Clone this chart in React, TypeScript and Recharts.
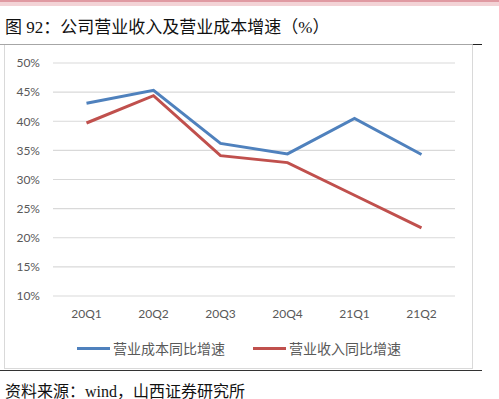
import { LineChart, Line, XAxis, YAxis, CartesianGrid } from 'recharts'

const quarters = ['20Q1', '20Q2', '20Q3', '20Q4', '21Q1', '21Q2']
const costGrowth = [43.1, 45.3, 36.2, 34.4, 40.5, 34.3]
const revenueGrowth = [39.7, 44.4, 34.1, 32.9, 27.3, 21.7]
const yTicks = [10, 15, 20, 25, 30, 35, 40, 45, 50]

const seriesList = [
  { key: 'cost', name: '营业成本同比增速', color: '#4F81BD' },
  { key: 'revenue', name: '营业收入同比增速', color: '#C0504D' },
]

const data = quarters.map((q, i) => ({
  quarter: q,
  cost: costGrowth[i],
  revenue: revenueGrowth[i],
}))

const axisFont = 'Lato, "Liberation Sans", sans-serif'
const cnFont = '"Liberation Serif", "Times New Roman", "Noto Sans CJK SC", serif'

export default function App() {
  return (
    <div
      style={{
        position: 'absolute',
        left: 0,
        top: 0,
        width: 499,
        height: 399,
        background: '#fff',
        overflow: 'hidden',
      }}
    >
      {/* pink band at the top */}
      <div style={{ position: 'absolute', left: 0, top: 0, width: 499, height: 2, background: '#E09AA2' }} />
      <div style={{ position: 'absolute', left: 0, top: 2, width: 499, height: 4, background: '#F3D3D6' }} />

      <div
        style={{
          position: 'absolute',
          left: 5,
          top: 13,
          fontFamily: cnFont,
          fontSize: 17,
          color: '#111',
          whiteSpace: 'nowrap',
        }}
      >
        图 92：公司营业收入及营业成本增速（%）
      </div>

      <div style={{ position: 'absolute', left: 0, top: 44, width: 473, height: 1, background: '#A6A6A6' }} />
      <div style={{ position: 'absolute', left: 473, top: 44, width: 9, height: 1, background: '#222' }} />

      {/* chart frame */}
      <div
        style={{
          position: 'absolute',
          left: 4,
          top: 45,
          width: 467,
          height: 323,
          border: '1px solid #D9D9D9',
          borderTop: 'none',
        }}
      />

      <div style={{ position: 'absolute', left: 0, top: 370, width: 482, height: 1, background: '#333' }} />

      <div
        style={{
          position: 'absolute',
          left: 5,
          top: 378,
          fontFamily: cnFont,
          fontSize: 16,
          color: '#111',
          whiteSpace: 'nowrap',
        }}
      >
        资料来源：wind，山西证券研究所
      </div>

      <div style={{ position: 'absolute', left: 0, top: 0 }}>
        <LineChart
          width={499}
          height={399}
          data={data}
          margin={{ top: 63, right: 44, bottom: 73, left: 8 }}
        >
          <CartesianGrid vertical={false} stroke="#D9D9D9" strokeWidth={1.2} />
          <XAxis
            dataKey="quarter"
            axisLine={false}
            tickLine={false}
            height={30}
            tickSize={0}
            tickMargin={13}
            padding={{ left: 33.5, right: 33.5 }}
            tick={{ fontSize: 12, fill: '#595959', fontFamily: axisFont }}
            interval={0}
          />
          <YAxis
            domain={[10, 50]}
            ticks={yTicks}
            width={45}
            axisLine={false}
            tickLine={false}
            tickSize={0}
            tickMargin={13}
            tickFormatter={(v) => `${v}%`}
            tick={{ fontSize: 12, fill: '#595959', fontFamily: axisFont }}
          />
          {seriesList.map((s) => (
            <Line
              key={s.key}
              type="linear"
              dataKey={s.key}
              name={s.name}
              stroke={s.color}
              strokeWidth={3}
              dot={false}
              isAnimationActive={false}
            />
          ))}
        </LineChart>
      </div>

      {/* legend */}
      {seriesList.map((s, i) => (
        <div
          key={s.key}
          style={{
            position: 'absolute',
            left: 77 + i * 176,
            top: 338,
            display: 'flex',
            alignItems: 'center',
            whiteSpace: 'nowrap',
          }}
        >
          <div style={{ width: 33, height: 3, background: s.color, marginRight: 3 }} />
          <span style={{ fontFamily: '"Noto Sans CJK SC", sans-serif', fontSize: 14, color: '#595959' }}>
            {s.name}
          </span>
        </div>
      ))}
    </div>
  )
}
